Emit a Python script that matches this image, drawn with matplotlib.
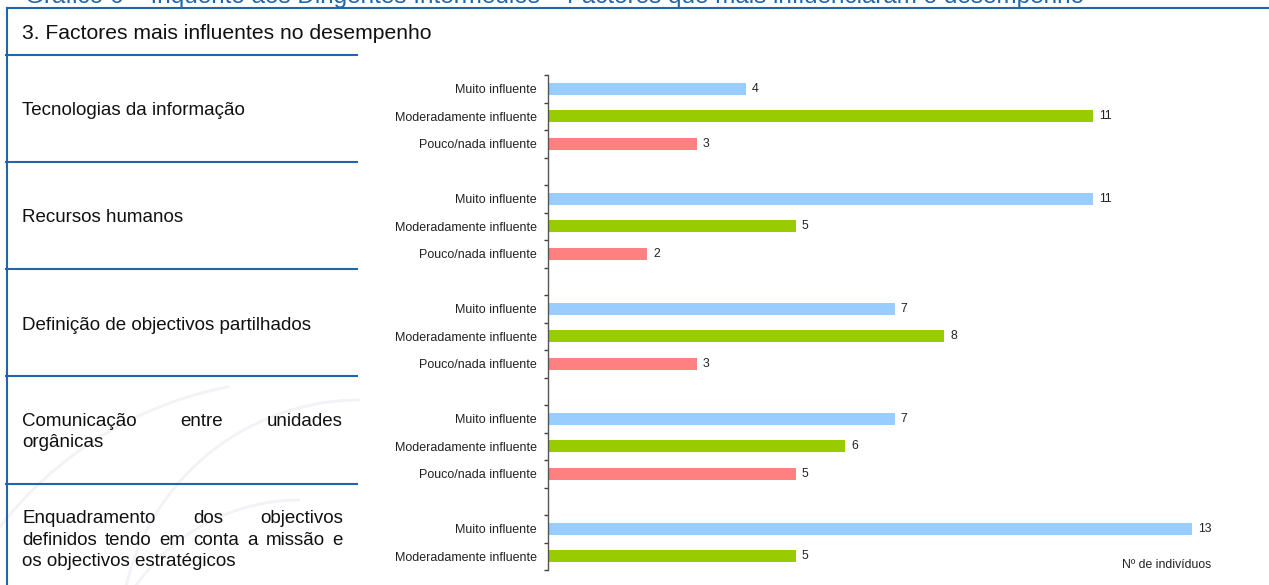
import numpy as np
import matplotlib
matplotlib.use('Agg')
import matplotlib.pyplot as plt
from matplotlib.lines import Line2D
from matplotlib.patches import Arc

plt.rcParams['font.family'] = ['Liberation Sans', 'DejaVu Sans']

W, H = 1269, 585

titulo = "Gráfico 6 – Inquérito aos Dirigentes Intermédios – Factores que mais influenciaram o desempenho"
secao = "3. Factores mais influentes no desempenho"
factores = [
    ["Tecnologias da informação"],
    ["Recursos humanos"],
    ["Definição de objectivos partilhados"],
    ["Comunicação entre unidades", "orgânicas"],
    ["Enquadramento dos objectivos", "definidos tendo em conta a missão e", "os objectivos estratégicos"],
]
niveis = ["Muito influente", "Moderadamente influente", "Pouco/nada influente"]
muito = [4, 11, 7, 7, 13]
moderado = [11, 5, 8, 6, 5]
pouco = [3, 2, 3, 5, None]   # last group is cut off in the source
unidade = "Nº de indivíduos"

cores = ['#99CCFF', '#99CC00', '#FF8080']
azul = '#1F66AA'


def fx(x):
    return x / W


def fy(y):
    return 1 - y / H


fig = plt.figure(figsize=(W / 100, H / 100), dpi=100)
fig.patch.set_facecolor('white')

# very faint watermark behind the left panel
for (cx, cy, r, t1, t2) in [(300, 760, 380, 95, 180), (300, 700, 200, 90, 180), (360, 640, 240, 90, 160)]:
    fig.add_artist(Arc((fx(cx), fy(cy)), 2 * r / W, 2 * r / H, theta1=t1, theta2=t2,
                       transform=fig.transFigure, color='#f2f2f7', lw=2, zorder=0))

# frame lines of the document table
fig.add_artist(Line2D([fx(7), fx(W)], [fy(8), fy(8)], color=azul, lw=1.5))
fig.add_artist(Line2D([fx(7), fx(7)], [fy(8), fy(H)], color=azul, lw=1.5))
for y in [55, 162, 269, 376, 484]:
    fig.add_artist(Line2D([fx(6), fx(357)], [fy(y), fy(y)], color=azul, lw=1.5))

# cut-off caption on top
fig.text(fx(25), fy(3), titulo, color=azul, fontsize=17.5, ha='left', va='baseline')
fig.text(fx(22), fy(39), secao, color='#111111', fontsize=15.2, ha='left', va='baseline')

# left column, justified like the original document
renderer = fig.canvas.get_renderer()
baselines = [[115], [222], [330], [426, 447], [523, 545, 566]]
x0, x1 = 22, 343
for linhas, ys in zip(factores, baselines):
    for k, (linha, y) in enumerate(zip(linhas, ys)):
        palavras = linha.split()
        if k == len(linhas) - 1 or len(palavras) == 1:
            fig.text(fx(x0), fy(y), linha, fontsize=13.5, color='#111111', ha='left', va='baseline')
            continue
        txts = [fig.text(0, 0, p, fontsize=13.5, color='#111111', ha='left', va='baseline') for p in palavras]
        larg = [t.get_window_extent(renderer).width for t in txts]
        gap = (x1 - x0 - sum(larg)) / (len(palavras) - 1)
        x = x0
        for t, w in zip(txts, larg):
            t.set_position((fx(x), fy(y)))
            x += w + gap

# bar chart
ax = fig.add_axes([fx(548), fy(570), 693 / W, 495 / H])
ax.patch.set_alpha(0)
series = [muito, moderado, pouco]
pos, labels = [], []
for g in range(len(factores)):
    for i, vals in enumerate(series):
        v = vals[g]
        if v is None:
            continue
        p = 4 * g + i
        pos.append(p)
        labels.append(niveis[i])
        ax.barh(p, v, height=0.44, color=cores[i])
        ax.annotate(str(v), (v, p), xytext=(4.5, 0), textcoords='offset points',
                    va='center', ha='left', fontsize=8.8, color='#222222')

ax.set_xlim(0, 14)
ax.set_ylim(17.5, -0.5)
ax.set_yticks(pos)
ax.set_yticklabels(labels, fontsize=9, color='#222222')
ax.set_yticks(np.arange(-0.5, 18, 1), minor=True)
ax.tick_params(axis='y', which='major', length=0, pad=8)
ax.tick_params(axis='y', which='minor', length=3, direction='out', color='#404040', width=1)
ax.set_xticks([])
for s in ['top', 'right', 'bottom']:
    ax.spines[s].set_visible(False)
ax.spines['left'].set_color('#555555')
ax.spines['left'].set_linewidth(1)

fig.text(fx(1211), fy(565), unidade, fontsize=8.8, ha='right', va='center', color='#222222')

fig.savefig('out.png', dpi=100)
